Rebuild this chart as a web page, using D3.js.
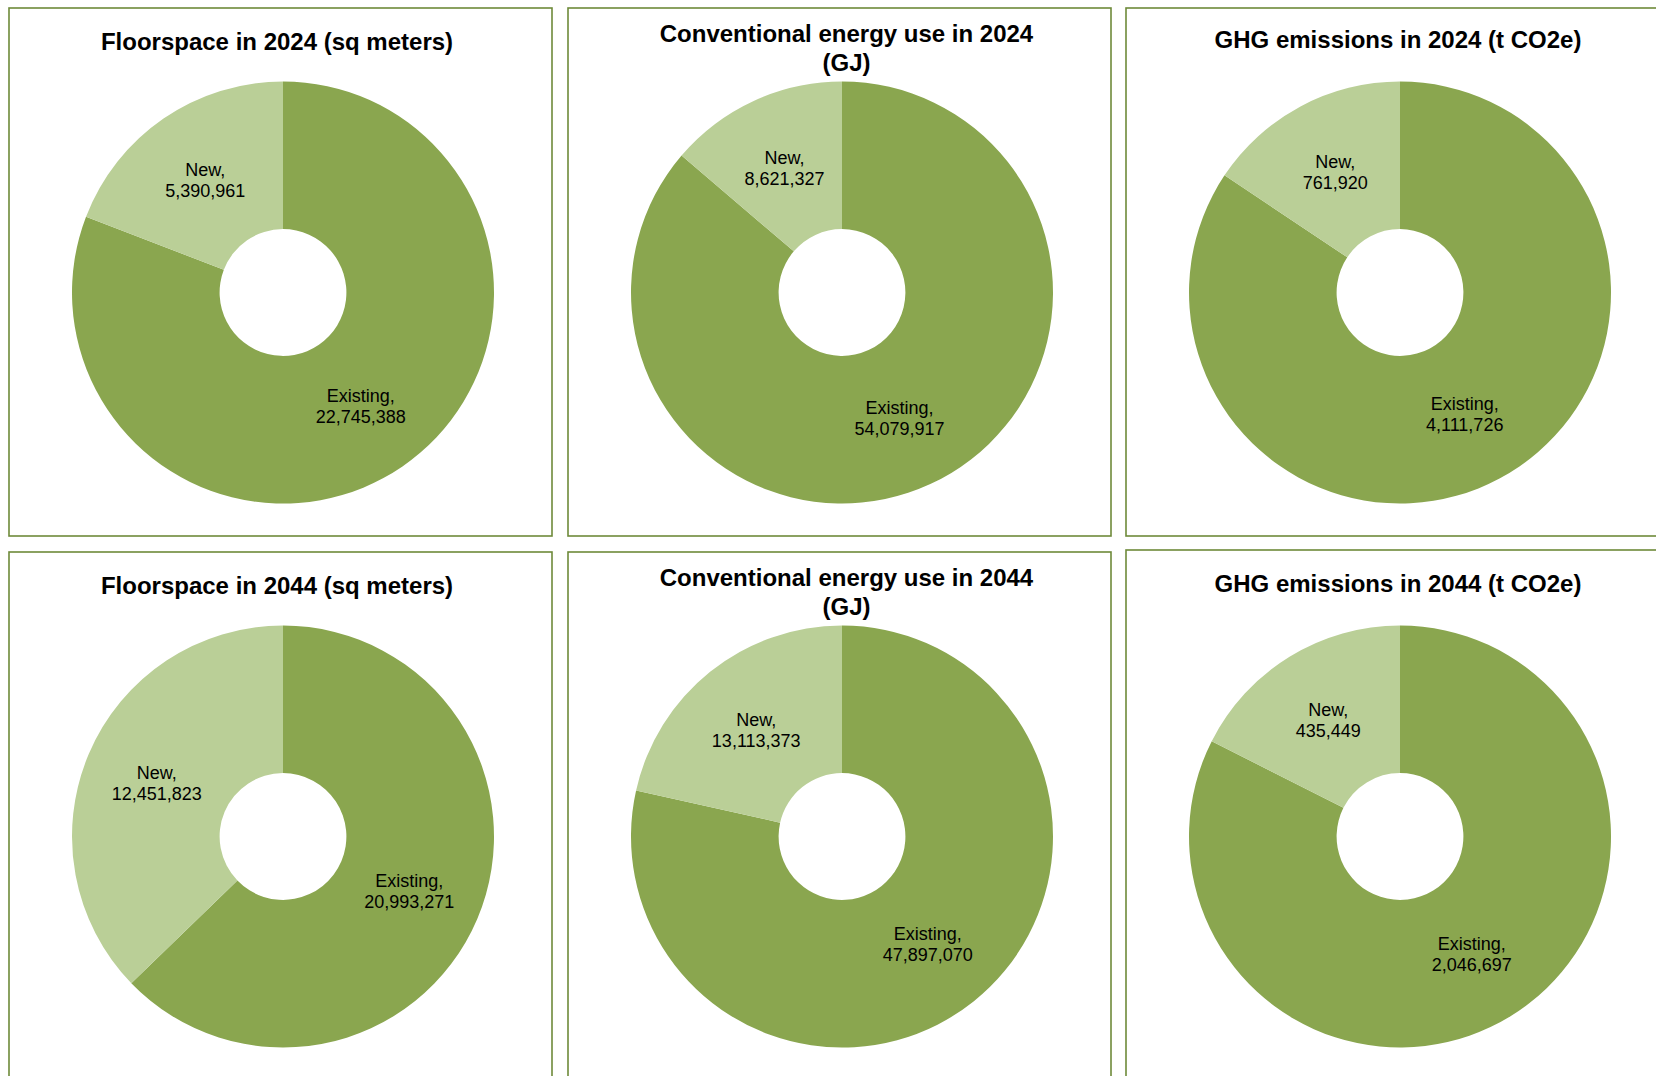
<!DOCTYPE html>
<html>
<head>
<meta charset="utf-8">
<script src="https://cdn.jsdelivr.net/npm/d3@7"></script>
<style>
  html, body { margin: 0; padding: 0; background: #ffffff; }
  svg { display: block; }
  text { font-family: "Liberation Sans", Arial, sans-serif; fill: #000; }
</style>
</head>
<body>
<svg id="chart" width="1656" height="1076"></svg>
<script>
// Building stock: existing vs. new, 2024 and 2044
const categories = ["Existing", "New"];
const panelTitles = [
  ["Floorspace in 2024 (sq meters)"],
  ["Conventional energy use in 2024", "(GJ)"],
  ["GHG emissions in 2024 (t CO2e)"],
  ["Floorspace in 2044 (sq meters)"],
  ["Conventional energy use in 2044", "(GJ)"],
  ["GHG emissions in 2044 (t CO2e)"]
];
const existingValues = [22745388, 54079917, 4111726, 20993271, 47897070, 2046697];
const newValues      = [5390961, 8621327, 761920, 12451823, 13113373, 435449];

// Layout
const panelW = 543, panelH = 528;
const colX = [9, 568, 1126];
const rowY = [8, 552];
const frameShift = [[0, 0], [0, 0], [0, -2]];   // small nudge of the last frame
const titleOffsetX = [268, 278.5, 272];
const titleBaseline = [42, 34, 40];
const pieCx = 274, pieCy = 284.5;
const outerR = 211, innerR = 63.4;
const colors = d3.scaleOrdinal().domain(categories).range(["#8aa64f", "#bacf97"]);
const fmt = d3.format(",");

const svg = d3.select("#chart");
svg.append("rect").attr("width", 1656).attr("height", 1076).attr("fill", "#fff");

const pie = d3.pie().sort(null).value(d => d.value);
const arc = d3.arc().innerRadius(innerR).outerRadius(outerR);
const labelArc = d3.arc().innerRadius(innerR).outerRadius(outerR);

panelTitles.forEach((title, i) => {
  const col = i % 3, row = Math.floor(i / 3);
  const g = svg.append("g").attr("transform", `translate(${colX[col]},${rowY[row]})`);

  g.append("rect")
    .attr("x", 0).attr("y", frameShift[col][row])
    .attr("width", panelW).attr("height", panelH)
    .attr("fill", "#fff")
    .attr("stroke", "#6e8a3a")
    .attr("stroke-width", 1.6);

  const t = g.append("text")
    .attr("text-anchor", "middle")
    .attr("font-size", 24)
    .attr("font-weight", "bold");
  title.forEach((line, k) => {
    t.append("tspan")
      .attr("x", titleOffsetX[col])
      .attr("y", titleBaseline[col] + k * 28.5)
      .text(line);
  });

  const data = [
    { name: categories[0], value: existingValues[i] },
    { name: categories[1], value: newValues[i] }
  ];
  const arcs = pie(data);
  const pg = g.append("g").attr("transform", `translate(${pieCx},${pieCy})`);

  pg.selectAll("path")
    .data(arcs)
    .join("path")
    .attr("d", arc)
    .attr("fill", d => colors(d.data.name));

  const labels = pg.selectAll("text.lbl")
    .data(arcs)
    .join("text")
    .attr("class", "lbl")
    .attr("text-anchor", "middle")
    .attr("font-size", 18);
  labels.each(function(d) {
    const [x, y] = labelArc.centroid(d);
    const el = d3.select(this);
    el.append("tspan").attr("x", x).attr("y", y - 3.5).text(d.data.name + ",");
    el.append("tspan").attr("x", x).attr("y", y + 17.5).text(fmt(d.data.value));
  });
});
</script>
</body>
</html>
